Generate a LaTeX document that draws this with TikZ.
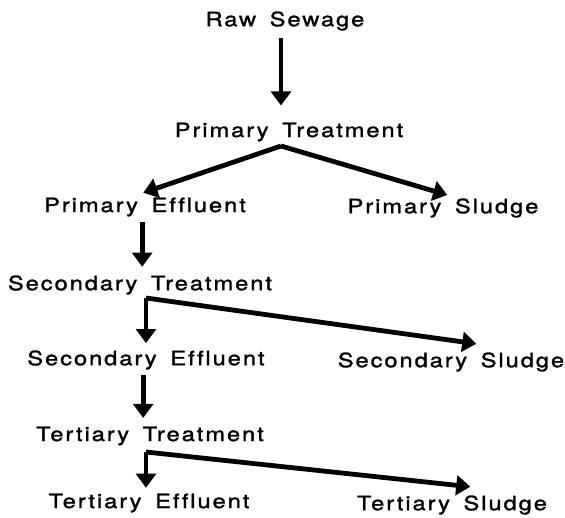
\documentclass[tikz,border=0pt]{standalone}
\usepackage{fontspec}
\setmainfont{TeX Gyre Heros}[FakeStretch=1.2, LetterSpace=10, WordSpace=1.6, Ligatures=NoCommon, FakeBold=1.5]
\usetikzlibrary{arrows.meta}

\begin{document}
\begin{tikzpicture}[x=0.025cm, y=-0.025cm,
    label/.style={font=\fontsize{14}{16}\selectfont, inner sep=2pt},
    flow/.style={line width=3.4pt, line join=miter, -{Triangle[width=14pt,length=10pt]}}]
    \useasboundingbox (0,0) rectangle (565,518);

    \node[label] (rs) at (285,21) {Raw Sewage};
    \node[label] (pt) at (289,132) {Primary Treatment};
    \node[label] (pe) at (145,207) {Primary Effluent};
    \node[label] (ps) at (443,208) {Primary Sludge};
    \node[label] (st) at (140,285) {Secondary Treatment};
    \node[label] (se) at (146,360) {Secondary Effluent};
    \node[label] (ss) at (451,362) {Secondary Sludge};
    \node[label] (tt) at (150,436) {Tertiary Treatment};
    \node[label] (te) at (149,503) {Tertiary Effluent};
    \node[label] (ts) at (452,505) {Tertiary Sludge};

    \coordinate (pt-fork) at (281,146);
    \coordinate (st-fork) at (146,298);
    \coordinate (tt-fork) at (146,452);

    \draw[flow, shorten <=3pt, shorten >=10pt] (rs.south -| pt-fork) -- (pt.north -| pt-fork);
    \draw[flow, shorten >=4pt] (pt-fork) -- ([xshift=-5pt]pe.north);
    \draw[flow, shorten >=1pt] (pt-fork) -- ([xshift=4pt]ps.north);

    \draw[flow, shorten <=2pt, shorten >=4pt] ([xshift=-2pt]pe.south) -- ([xshift=-2pt]pe.south |- st.north);
    \draw[flow, shorten >=3pt] (st-fork) -- (st-fork |- se.north);
    \draw[flow] (st-fork) -- ([xshift=18pt,yshift=4pt]ss.north);

    \draw[flow, shorten <=2pt, shorten >=4pt] ([xshift=-2pt]se.south) -- ([xshift=-2pt]se.south |- tt.north);
    \draw[flow, shorten >=2pt] (tt-fork) -- (tt-fork |- te.north);
    \draw[flow] (tt-fork) -- ([xshift=13pt,yshift=4pt]ts.north);

\end{tikzpicture}
\end{document}
